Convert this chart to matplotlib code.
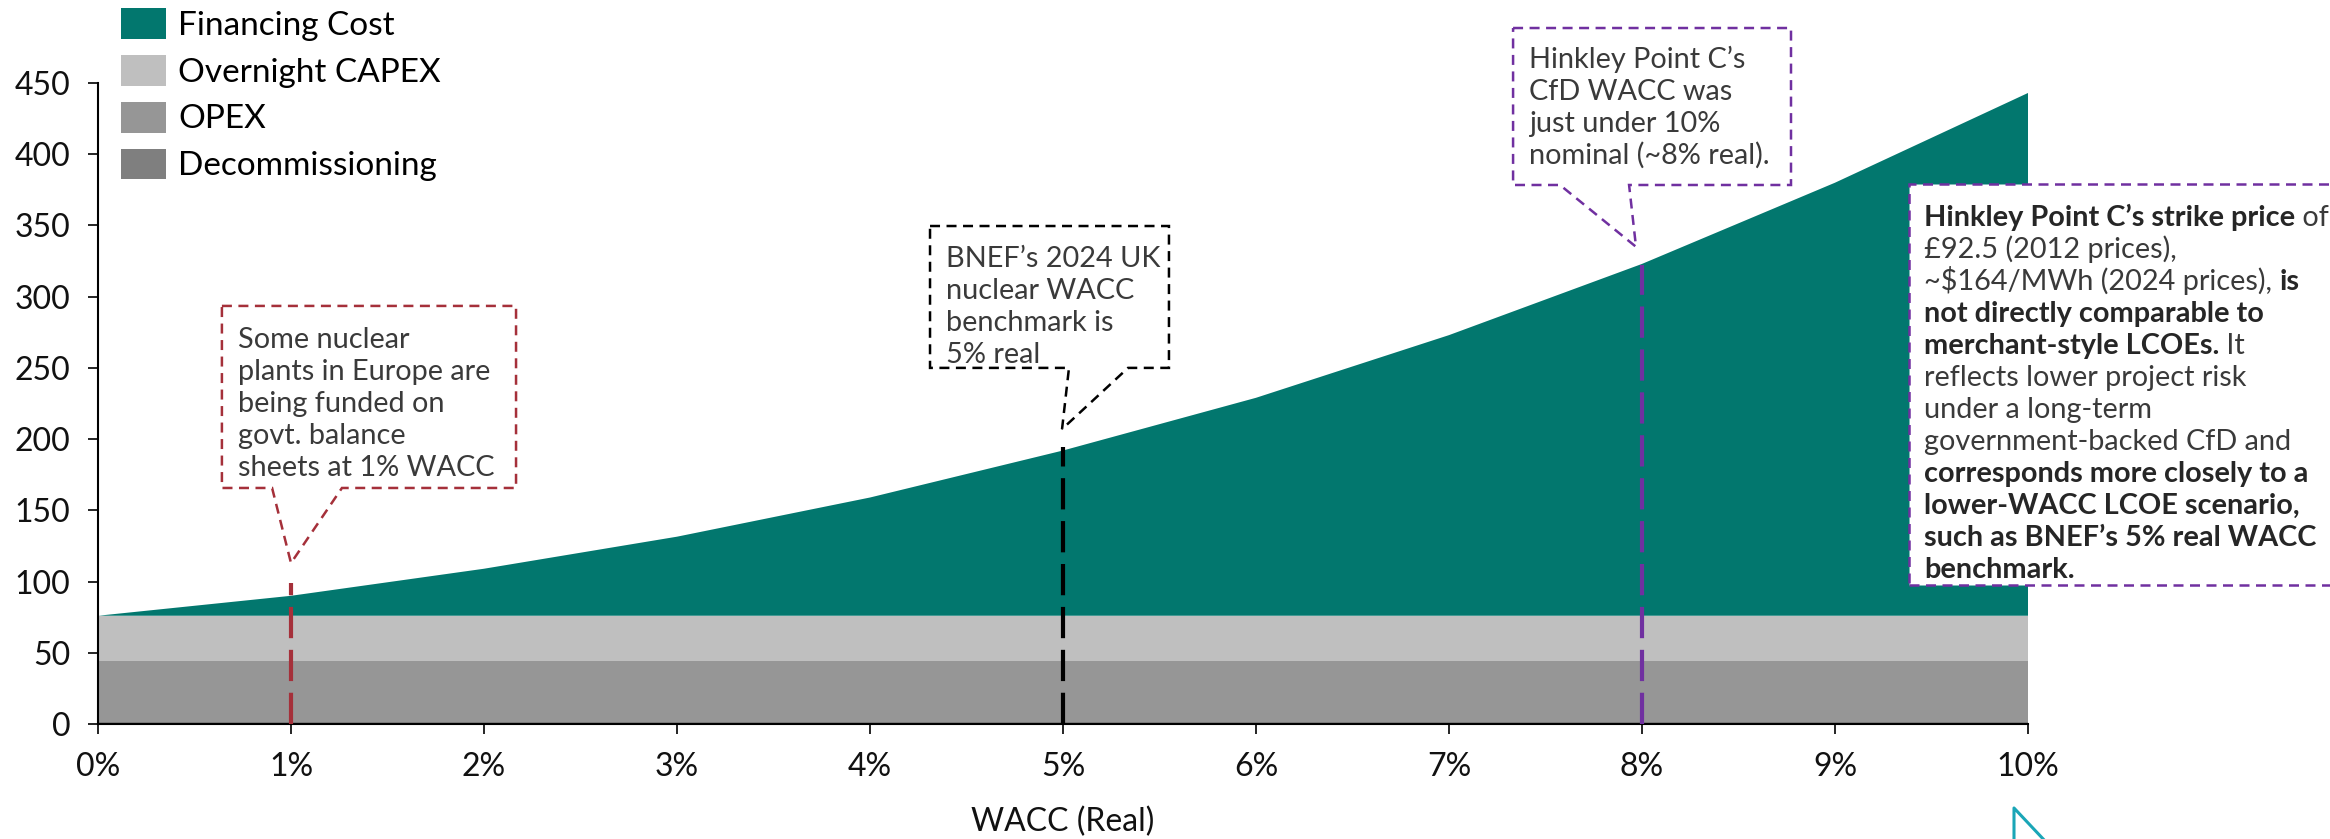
import matplotlib
matplotlib.use("Agg")
import matplotlib.pyplot as plt
from matplotlib.patches import Patch, Polygon, Rectangle
from matplotlib.lines import Line2D

plt.rcParams['font.family'] = ['Lato', 'DejaVu Sans']

W, H = 2330, 839

# the data (LCOE stack, $/MWh, by real WACC)
wacc = [0, 1, 2, 3, 4, 5, 6, 7, 8, 9, 10]
decommissioning = [1.5, 1.5, 1.5, 1.5, 1.5, 1.5, 1.5, 1.5, 1.5, 1.5, 1.5]
opex = [42.5, 42.5, 42.5, 42.5, 42.5, 42.5, 42.5, 42.5, 42.5, 42.5, 42.5]
capex = [32, 32, 32, 32, 32, 32, 32, 32, 32, 32, 32]
financing = [0, 14, 33, 55.5, 83, 116, 153, 197, 247, 304, 367]

labels = ['Financing Cost', 'Overnight CAPEX', 'OPEX', 'Decommissioning']
colors = ['#02776E', '#BFBFBF', '#969696', '#7F7F7F']
x_ticklabels = ['0%', '1%', '2%', '3%', '4%', '5%', '6%', '7%', '8%', '9%', '10%']

RED = '#A5303A'
PURPLE = '#7030A0'
TEXT = '#3A3A3A'
FS = 20.8


def fx(px):
    return px / W


def fy(py):
    return 1 - py / H


fig = plt.figure(figsize=(W / 100, H / 100), dpi=100)
ax = fig.add_axes([fx(98), fy(724), fx(2028) - fx(98), fy(83) - fy(724)])

# stacked areas
ax.stackplot(wacc, decommissioning, opex, capex, financing,
             colors=[colors[3], colors[2], colors[1], colors[0]], lw=0)

ax.set_xlim(0, 10)
ax.set_ylim(0, 450)
ax.set_xticks(wacc)
ax.set_xticklabels(x_ticklabels)
ax.set_yticks(range(0, 451, 50))
ax.tick_params(labelsize=23, length=7, width=1.2, color='black', labelcolor='#111111')
ax.tick_params(axis='x', pad=13)
ax.tick_params(axis='y', pad=13)
for s in ['top', 'right']:
    ax.spines[s].set_visible(False)
for s in ['left', 'bottom']:
    ax.spines[s].set_linewidth(1.5)
ax.set_xlabel('WACC (Real)', fontsize=23, labelpad=18, color='#111111')

# legend
handles = [Patch(facecolor=c, edgecolor='none') for c in colors]
fig.legend(handles, labels, loc='upper left', bbox_to_anchor=(fx(121), fy(8)),
           frameon=False, fontsize=24, handlelength=1.35, handleheight=1.05,
           handletextpad=0.36, labelspacing=0.42, borderpad=0, borderaxespad=0)

renderer = fig.canvas.get_renderer()


def draw_lines(x_px, base_px, lines, spacing=32, zorder=10):
    for i, line in enumerate(lines):
        cur = x_px
        for seg, bold in line:
            t = fig.text(fx(cur), fy(base_px + i * spacing), seg, fontsize=FS,
                         fontweight='bold' if bold else 'normal',
                         color='#262626' if bold else TEXT, va='baseline',
                         ha='left', zorder=zorder)
            cur += t.get_window_extent(renderer).width


# callouts: (x of marker, top of marker line, colour, box, tail base, tip, text)
callouts = [
    (1, 99, RED, (0.642, 2.166, 165.7, 293.5), (0.902, 1.264), (1.0, 113),
     (238, 348, ['Some nuclear', 'plants in Europe are', 'being funded on',
                 'govt. balance', 'sheets at 1% WACC'])),
    (5, 194.5, 'black', (4.311, 5.549, 250, 349.6), (5.031, 5.337), (4.995, 207),
     (946, 267, ['BNEF\u2019s 2024 UK', 'nuclear WACC', 'benchmark is', '5% real'])),
    (8, 322, PURPLE, (7.332, 8.772, 378.4, 488.6), (7.575, 7.933), (7.969, 335),
     (1529, 68, ['Hinkley Point C\u2019s', 'CfD WACC was', 'just under 10%',
                 'nominal (~8% real).'])),
]

for xv, top, col, box, tail, tip, txt in callouts:
    ax.plot([xv, xv], [0, top], color=col, lw=3, ls=(0, (7.5, 2.8)), zorder=4)
    x0, x1, y0, y1 = box
    pts = [(x0, y1), (x1, y1), (x1, y0), (tail[1], y0), tip, (tail[0], y0), (x0, y0)]
    ax.add_patch(Polygon(pts, closed=True, facecolor='white', edgecolor=col,
                         lw=1.8, ls=(0, (4, 2.6)), clip_on=False, zorder=6))
    draw_lines(txt[0], txt[1], [[(s, False)] for s in txt[2]])

# right-hand note box
ax.add_patch(Rectangle((9.383, 97.6), 2.4, 281.5, facecolor='white', edgecolor=PURPLE,
                       lw=1.8, ls=(0, (4, 2.6)), clip_on=False, zorder=6))
note = [
    [('Hinkley Point C\u2019s strike price', True), (' of', False)],
    [('\u00a392.5 (2012 prices),', False)],
    [('~$164/MWh (2024 prices), ', False), ('is', True)],
    [('not directly comparable to', True)],
    [('merchant-style LCOEs.', True), (' It', False)],
    [('reflects lower project risk', False)],
    [('under a long-term', False)],
    [('government-backed CfD and', False)],
    [('corresponds more closely to a', True)],
    [('lower-WACC LCOE scenario,', True)],
    [('such as BNEF\u2019s 5% real WACC', True)],
    [('benchmark.', True)],
]
draw_lines(1924, 226, note)

# stray cyan marker at the bottom edge
fig.add_artist(Line2D([fx(2014), fx(2014), fx(2046)], [fy(842), fy(808), fy(842)],
                      color='#1AA6B7', lw=2.2, transform=fig.transFigure))

fig.savefig('out.png', dpi=100)
